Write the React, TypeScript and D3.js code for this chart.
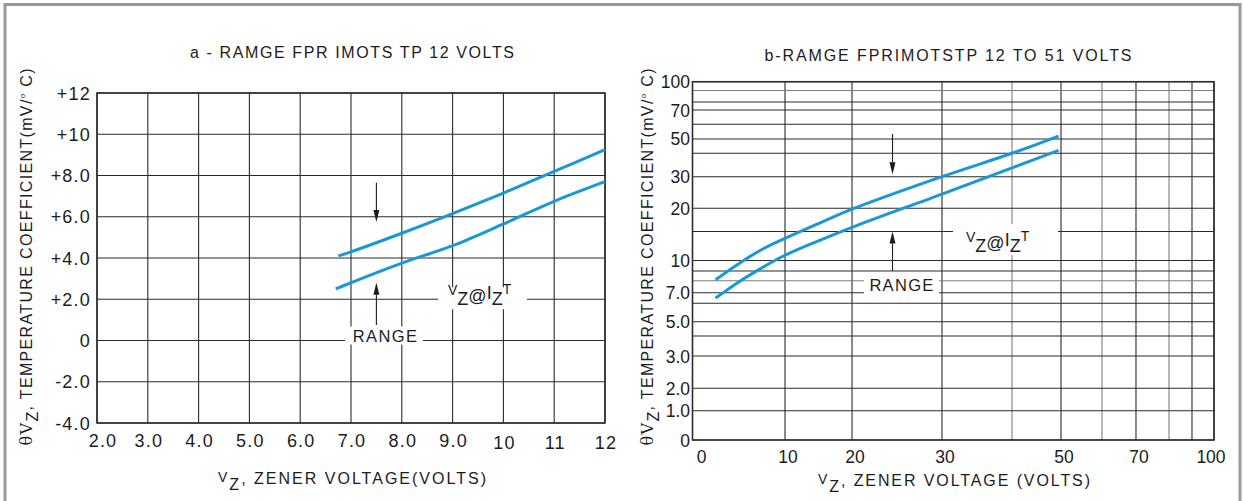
import React from "react";
import * as d3 from "d3";

// chart a: linear axes
const leftXTicks = [2, 3, 4, 5, 6, 7, 8, 9, 10, 11, 12];
const leftXLabels = ["2.0", "3.0", "4.0", "5.0", "6.0", "7.0", "8.0", "9.0", "10", "11", "12"];
const leftYTicks = [-4, -2, 0, 2, 4, 6, 8, 10, 12];
const leftYLabels = ["-4.0", "-2.0", "0", "+2.0", "+4.0", "+6.0", "+8.0", "+10", "+12"];
const leftUpperX = [6.75, 7, 8, 9, 10, 11, 12];
const leftUpperY = [4.1, 4.3, 5.2, 6.15, 7.15, 8.2, 9.25];
const leftLowerX = [6.7, 7, 8, 9, 10, 11, 12];
const leftLowerY = [2.5, 2.8, 3.75, 4.6, 5.65, 6.75, 7.7];

// chart b: the printed grid is a hand-spaced quasi-log grid
const rightXGrid = [0, 10, 20, 30, 40, 50, 60, 70, 80, 90, 100];
const rightXLabeled = [0, 10, 20, 30, 50, 70, 100];
const rightYGrid = [0, 1, 2, 3, 4, 5, 6, 7, 8, 9, 10, 15, 20, 30, 40, 50, 60, 70, 80, 90, 100];
const rightYLabeled = [0, 1, 2, 3, 5, 7, 10, 20, 30, 50, 70, 100];
const rightYLabels = ["0", "1.0", "2.0", "3.0", "5.0", "7.0", "10", "20", "30", "50", "70", "100"];
const rightUpperX = [2.5, 5, 7.5, 10, 15, 20, 30, 40, 49.5];
const rightUpperY = [8.1, 9.7, 11.9, 13.8, 16.7, 19.8, 30, 40, 52];
const rightLowerX = [2.5, 5, 7.5, 10, 15, 20, 30, 40, 49.5];
const rightLowerY = [6.5, 7.9, 9.3, 10.9, 13.4, 15.9, 24.5, 33.8, 42];

// relative placement of the printed grid lines (fraction of plot size)
const rightXStops = [0, 0.1774, 0.3059, 0.4784, 0.6127, 0.7066, 0.7852, 0.8504, 0.9137, 0.9578, 1];
const rightYStops = [0, 0.0818, 0.1443, 0.2344, 0.2903, 0.3302, 0.3815, 0.4111, 0.4446, 0.4717, 0.501,
  0.5819, 0.6467, 0.7349, 0.8002, 0.8401, 0.8811, 0.921, 0.9433, 0.9754, 1];

const W = 1243;
const H = 501;
const blue = "#1a97d6";
const ink = "#1c1c1c";
const gridCol = "#2a2a2a";
const font = "'Liberation Sans', Arial, sans-serif";

function Arrow({ x, y1, y2 }: { x: number; y1: number; y2: number }) {
  // y2 is the tip
  const dir = y2 > y1 ? 1 : -1;
  const hl = 12;
  return (
    <g>
      <line x1={x} x2={x} y1={y1} y2={y2 - dir * hl} stroke={ink} strokeWidth={1.1} />
      <path d={`M${x},${y2} L${x - 3},${y2 - dir * hl} L${x + 3},${y2 - dir * hl} Z`} fill={ink} />
    </g>
  );
}

export default function App() {
  // ---- chart a
  const lx = d3.scaleLinear().domain([2, 12]).range([97, 605]);
  const ly = d3.scaleLinear().domain([-4, 12]).range([423, 93]);
  // ---- chart b
  const rx0 = 692.5, rx1 = 1214, ry0 = 440, ry1 = 81.7;
  const rx = d3.scaleLinear().domain(rightXGrid).range(rightXStops.map((f) => rx0 + f * (rx1 - rx0)));
  const ry = d3.scaleLinear().domain(rightYGrid).range(rightYStops.map((f) => ry0 + f * (ry1 - ry0)));

  const lline = d3.line<[number, number]>().x((d) => lx(d[0])).y((d) => ly(d[1])).curve(d3.curveCatmullRom.alpha(0.5));
  const rline = d3.line<[number, number]>().x((d) => rx(d[0])).y((d) => ry(d[1])).curve(d3.curveCatmullRom.alpha(0.5));
  const zip = (a: number[], b: number[]) => a.map((v, i) => [v, b[i]] as [number, number]);

  const grayX = [40, 60, 80];
  const grayY = [90, 8];

  return (
    <div style={{ position: "absolute", left: 0, top: 0 }}>
      <svg width={W} height={H} viewBox={`0 0 ${W} ${H}`} style={{ display: "block", fontFamily: font }}>
        <rect x={0} y={0} width={W} height={H} fill="#fff" />
        <rect x={5} y={4.5} width={1235} height={600} fill="none" stroke="#9a9a9a" strokeWidth={3} />

        {/* ================= chart a ================= */}
        <text x={352} y={58} textAnchor="middle" fontSize={16} fill={ink} textLength={324} lengthAdjust="spacing">
          a - RAMGE FPR IMOTS TP 12 VOLTS
        </text>
        <g stroke={gridCol} strokeWidth={1.1}>
          {leftXTicks.map((t) => (
            <line key={"lx" + t} x1={lx(t)} x2={lx(t)} y1={ly(12)} y2={ly(-4)} />
          ))}
          {leftYTicks.map((t) => (
            <line key={"ly" + t} x1={lx(2)} x2={lx(12)} y1={ly(t)} y2={ly(t)} />
          ))}
        </g>
        <rect x={lx(2)} y={ly(12)} width={lx(12) - lx(2)} height={ly(-4) - ly(12)} fill="none" stroke={gridCol} strokeWidth={1.5} />
        {leftYTicks.map((t, i) => (
          <text key={"lyl" + t} x={91} y={ly(t) + 6.5} textAnchor="end" fontSize={18} letterSpacing={1.2} fill={ink}>
            {leftYLabels[i]}
          </text>
        ))}
        {leftXTicks.map((t, i) => (
          <text key={"lxl" + t} x={lx(t) + (i === 0 ? 6 : 1)} y={t >= 10 ? 449 : 447} textAnchor="middle" fontSize={18} letterSpacing={1.2} fill={ink}>
            {leftXLabels[i]}
          </text>
        ))}
        <path d={lline(zip(leftUpperX, leftUpperY)) || ""} fill="none" stroke={blue} strokeWidth={3} />
        <path d={lline(zip(leftLowerX, leftLowerY)) || ""} fill="none" stroke={blue} strokeWidth={3} />

        <Arrow x={lx(7.5)} y1={ly(7.65)} y2={ly(5.75)} />
        <Arrow x={lx(7.5)} y1={ly(0.75)} y2={ly(2.8)} />
        <rect x={345} y={ly(0) - 14} width={78} height={18} fill="#fff" />
        <text x={385.5} y={ly(0) + 1} textAnchor="middle" fontSize={16.5} letterSpacing={1.4} fill={ink}>RANGE</text>
        <rect x={438} y={ly(2) - 12} width={89} height={22} fill="#fff" />
        <text fontSize={18} fill={ink}>
          <tspan x={448} y={295} fontSize={14}>V</tspan>
          <tspan y={305}>Z</tspan>
          <tspan y={302}>@</tspan>
          <tspan y={299}>I</tspan>
          <tspan y={305}>Z</tspan>
          <tspan y={294} fontSize={14}>T</tspan>
        </text>

        <text x={352} y={484} textAnchor="middle" fontSize={16} fill={ink} textLength={268} lengthAdjust="spacing">
          <tspan fontSize={14} dy={-2}>V</tspan>
          <tspan dy={8}>Z</tspan>
          <tspan dy={-6}>, ZENER VOLTAGE(VOLTS)</tspan>
        </text>
        <text transform="translate(32,257) rotate(-90)" textAnchor="middle" fontSize={16} fill={ink} textLength={377} lengthAdjust="spacing">
          <tspan fontFamily="'DejaVu Serif', serif" fontSize={16}>θV</tspan>
          <tspan dy={6}>Z</tspan>
          <tspan dy={-6}>,  TEMPERATURE COEFFICIENT(mV/</tspan>
          <tspan fontSize={8} dy={-7}>o</tspan>
          <tspan dy={7}> C)</tspan>
        </text>

        {/* ================= chart b ================= */}
        <text x={948} y={61} textAnchor="middle" fontSize={16} fill={ink} textLength={367} lengthAdjust="spacing">
          b-RAMGE FPRIMOTSTP 12 TO 51 VOLTS
        </text>
        <g strokeWidth={1.1}>
          {rightXGrid.map((t) => (
            <line key={"rx" + t} x1={rx(t)} x2={rx(t)} y1={ry1} y2={ry0} stroke={grayX.includes(t) ? "#7d7d7d" : gridCol} />
          ))}
          {rightYGrid.map((t) => (
            <line key={"ry" + t} x1={rx0} x2={rx1} y1={ry(t)} y2={ry(t)} stroke={grayY.includes(t) ? "#7d7d7d" : gridCol} />
          ))}
        </g>
        <rect x={rx0} y={ry1} width={rx1 - rx0} height={ry0 - ry1} fill="none" stroke={gridCol} strokeWidth={1.5} />
        {rightYLabeled.map((t, i) => (
          <text key={"ryl" + t} x={690} y={ry(t) + 6.5} textAnchor="end" fontSize={17.5} fill={ink}>
            {rightYLabels[i]}
          </text>
        ))}
        {rightXLabeled.map((t) => (
          <text key={"rxl" + t} x={rx(t) + (t === 0 ? 9 : t === 100 ? -3 : 3)} y={463} textAnchor="middle" fontSize={17.5} fill={ink}>
            {t}
          </text>
        ))}
        <path d={rline(zip(rightUpperX, rightUpperY)) || ""} fill="none" stroke={blue} strokeWidth={3} />
        <path d={rline(zip(rightLowerX, rightLowerY)) || ""} fill="none" stroke={blue} strokeWidth={3} />

        <Arrow x={rx(24.5)} y1={ry(53.4)} y2={ry(31)} />
        <Arrow x={rx(24.5)} y1={ry(9)} y2={ry(15)} />
        <rect x={864} y={277} width={75} height={17} fill="#fff" />
        <text x={902} y={291} textAnchor="middle" fontSize={16.5} letterSpacing={1.3} fill={ink}>RANGE</text>
        <rect x={953} y={224} width={105} height={31} fill="#fff" />
        <text fontSize={18} fill={ink}>
          <tspan x={966} y={242} fontSize={14}>V</tspan>
          <tspan y={252}>Z</tspan>
          <tspan y={249}>@</tspan>
          <tspan y={246}>I</tspan>
          <tspan y={252}>Z</tspan>
          <tspan y={241} fontSize={14}>T</tspan>
        </text>

        <text x={954} y={486} textAnchor="middle" fontSize={16} fill={ink} textLength={272} lengthAdjust="spacing">
          <tspan fontSize={14} dy={-2}>V</tspan>
          <tspan dy={8}>Z</tspan>
          <tspan dy={-6}>, ZENER VOLTAGE (VOLTS)</tspan>
        </text>
        <text transform="translate(653,257) rotate(-90)" textAnchor="middle" fontSize={16} fill={ink} textLength={377} lengthAdjust="spacing">
          <tspan fontFamily="'DejaVu Serif', serif" fontSize={16}>θV</tspan>
          <tspan dy={6}>Z</tspan>
          <tspan dy={-6}>,  TEMPERATURE COEFFICIENT(mV/</tspan>
          <tspan fontSize={8} dy={-7}>o</tspan>
          <tspan dy={7}> C)</tspan>
        </text>
      </svg>
    </div>
  );
}
